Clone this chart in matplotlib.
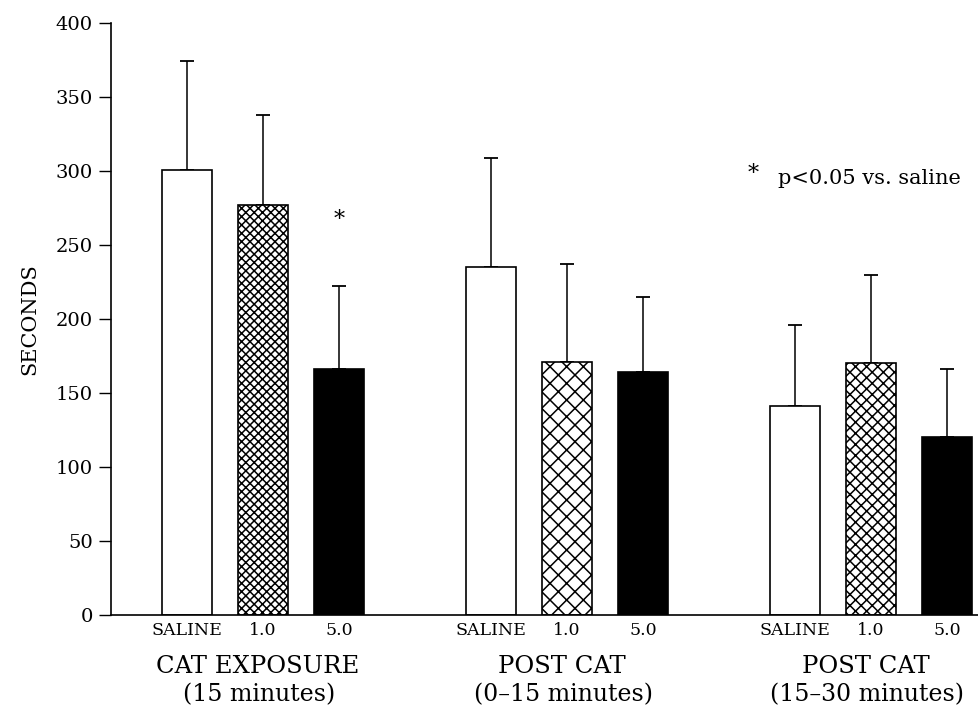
import matplotlib.pyplot as plt
import numpy as np

group_top = ['CAT EXPOSURE', 'POST CAT', 'POST CAT']
group_bottom = ['(15 minutes)', '(0\u201315 minutes)', '(15\u201330 minutes)']
doses = ['SALINE', '1.0', '5.0']
# mean seconds per dose, one list per group
saline = [301, 235, 141]
dose_1 = [277, 171, 170]
dose_5 = [166, 164, 120]
# upper error (SEM) per dose
saline_err = [73, 74, 55]
dose_1_err = [61, 66, 60]
dose_5_err = [56, 51, 46]
star_groups = [0]

serif = 'DejaVu Serif'

fig = plt.figure(figsize=(9.79, 7.10), dpi=100)
ax = fig.add_axes([0.1134, 0.1338, 0.8866, 0.8338])
plt.rcParams['hatch.linewidth'] = 1.1

base = np.arange(len(group_top)) * 4
w = 0.66
series = [saline, dose_1, dose_5]
errs = [saline_err, dose_1_err, dose_5_err]
colors = ['white', 'white', 'black']
for i in range(3):
    x = base + i
    bars = ax.bar(x, series[i], w, color=colors[i], edgecolor='black', linewidth=1.2, zorder=2)
    if i == 1:
        # crosshatch is finer in the first group of the original
        for b, h in zip(bars, ['xxxx', 'xx', 'xxx']):
            b.set_hatch(h)
    ax.errorbar(x, series[i], yerr=[np.zeros(3), errs[i]], fmt='none', ecolor='black',
                elinewidth=1.1, capsize=5, capthick=1.3, zorder=1)

for g in star_groups:
    ax.text(base[g] + 2, 267, '*', ha='center', va='center', fontsize=16, family=serif)

ax.text(7.45, 298, '*', ha='center', va='center', fontsize=16, family=serif)
ax.text(7.78, 295, 'p<0.05 vs. saline', ha='left', va='center', fontsize=15, family=serif)

ax.set_xlim(-1, 10.42)
ax.set_ylim(0, 400)
ax.set_yticks(np.arange(0, 401, 50))
ax.tick_params(axis='y', direction='out', length=9, width=1, labelsize=14, pad=4)
for lab in ax.get_yticklabels():
    lab.set_family(serif)
ax.set_xticks([])
for i in range(3):
    for j, d in enumerate(doses):
        ax.text(base[i] + j, -10.2, d, ha='center', va='center', fontsize=12.5, family=serif)
    ax.text(base[i] + 0.93, -34.5, group_top[i], ha='center', va='center',
            fontsize=17.5, family=serif)
    ax.text(base[i] + 0.95, -54, group_bottom[i], ha='center', va='center',
            fontsize=17, family=serif)

ax.set_ylabel('SECONDS', fontsize=15, family=serif, labelpad=12)
ax.spines['top'].set_visible(False)
ax.spines['right'].set_visible(False)
ax.spines['left'].set_linewidth(1.2)
ax.spines['bottom'].set_linewidth(1.2)

plt.savefig('out.png', dpi=100)
